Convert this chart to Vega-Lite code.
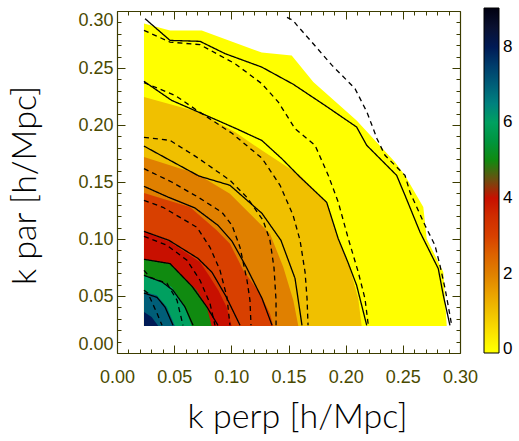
{
  "$schema": "https://vega.github.io/schema/vega-lite/v6.json",
  "width": 343,
  "height": 342,
  "autosize": "none",
  "padding": {"left": 117, "top": 11, "right": 59, "bottom": 88},
  "background": "white",
  "config": {"view": {"stroke": null}},
  "datasets": {
    "fills": [
      {"level":0,"kperp":0.0236,"kpar":0.289},{"level":0,"kperp":0.0464,"kpar":0.283},{"level":0,"kperp":0.0741,"kpar":0.283},{"level":0,"kperp":0.1266,"kpar":0.2635},{"level":0,"kperp":0.1528,"kpar":0.261},{"level":0,"kperp":0.1717,"kpar":0.2377},{"level":0,"kperp":0.2096,"kpar":0.204},{"level":0,"kperp":0.2431,"kpar":0.1675},{"level":0,"kperp":0.2519,"kpar":0.1558},{"level":0,"kperp":0.2679,"kpar":0.128},{"level":0,"kperp":0.2709,"kpar":0.1003},{"level":0,"kperp":0.2854,"kpar":0.071},{"level":0,"kperp":0.2869,"kpar":0.048},{"level":0,"kperp":0.2884,"kpar":0.0237},
      {"level":1,"kperp":0.0236,"kpar":0.2245},{"level":1,"kperp":0.0711,"kpar":0.2114},{"level":1,"kperp":0.1032,"kpar":0.1938},{"level":1,"kperp":0.1266,"kpar":0.1778},{"level":1,"kperp":0.16,"kpar":0.156},{"level":1,"kperp":0.1834,"kpar":0.1324},{"level":1,"kperp":0.1935,"kpar":0.1003},{"level":1,"kperp":0.2038,"kpar":0.074},{"level":1,"kperp":0.211,"kpar":0.0477},{"level":1,"kperp":0.214,"kpar":0.0237},
      {"level":2,"kperp":0.0236,"kpar":0.1719},{"level":2,"kperp":0.0697,"kpar":0.1573},{"level":2,"kperp":0.0988,"kpar":0.1398},{"level":2,"kperp":0.1163,"kpar":0.1222},{"level":2,"kperp":0.1338,"kpar":0.1047},{"level":2,"kperp":0.1454,"kpar":0.0754},{"level":2,"kperp":0.1542,"kpar":0.0462},{"level":2,"kperp":0.1586,"kpar":0.0237},
      {"level":3,"kperp":0.0236,"kpar":0.1403},{"level":3,"kperp":0.0638,"kpar":0.128},{"level":3,"kperp":0.0872,"kpar":0.1076},{"level":3,"kperp":0.0988,"kpar":0.0959},{"level":3,"kperp":0.1105,"kpar":0.0725},{"level":3,"kperp":0.1251,"kpar":0.0521},{"level":3,"kperp":0.1338,"kpar":0.0346},{"level":3,"kperp":0.1367,"kpar":0.0237},
      {"level":4,"kperp":0.0236,"kpar":0.1067},{"level":4,"kperp":0.0464,"kpar":0.0974},{"level":4,"kperp":0.0726,"kpar":0.0798},{"level":4,"kperp":0.0813,"kpar":0.0667},{"level":4,"kperp":0.0886,"kpar":0.055},{"level":4,"kperp":0.0959,"kpar":0.0403},{"level":4,"kperp":0.1003,"kpar":0.0237},
      {"level":5,"kperp":0.0236,"kpar":0.0822},{"level":5,"kperp":0.0464,"kpar":0.0784},{"level":5,"kperp":0.058,"kpar":0.0667},{"level":5,"kperp":0.0697,"kpar":0.055},{"level":5,"kperp":0.0785,"kpar":0.0403},{"level":5,"kperp":0.0828,"kpar":0.0237},
      {"level":6,"kperp":0.0236,"kpar":0.0681},{"level":6,"kperp":0.0376,"kpar":0.0638},{"level":6,"kperp":0.0478,"kpar":0.0579},{"level":6,"kperp":0.058,"kpar":0.0433},{"level":6,"kperp":0.0653,"kpar":0.0237},
      {"level":7,"kperp":0.0236,"kpar":0.0535},{"level":7,"kperp":0.0347,"kpar":0.0506},{"level":7,"kperp":0.0435,"kpar":0.0403},{"level":7,"kperp":0.0507,"kpar":0.0237},
      {"level":8,"kperp":0.0236,"kpar":0.036},{"level":8,"kperp":0.0303,"kpar":0.0316},{"level":8,"kperp":0.0361,"kpar":0.0237}
    ],
    "lines": [
      {"line":"S1","series":"P1","i":0,"kperp":0.0245,"kpar":0.2933},{"line":"S1","series":"P1","i":1,"kperp":0.0464,"kpar":0.2742},{"line":"S1","series":"P1","i":2,"kperp":0.0726,"kpar":0.2734},{"line":"S1","series":"P1","i":3,"kperp":0.0945,"kpar":0.2626},{"line":"S1","series":"P1","i":4,"kperp":0.1266,"kpar":0.2508},{"line":"S1","series":"P1","i":5,"kperp":0.1542,"kpar":0.2357},{"line":"S1","series":"P1","i":6,"kperp":0.1819,"kpar":0.2172},{"line":"S1","series":"P1","i":7,"kperp":0.2096,"kpar":0.1982},{"line":"S1","series":"P1","i":8,"kperp":0.2184,"kpar":0.1822},{"line":"S1","series":"P1","i":9,"kperp":0.2446,"kpar":0.1558},{"line":"S1","series":"P1","i":10,"kperp":0.2519,"kpar":0.1383},{"line":"S1","series":"P1","i":11,"kperp":0.265,"kpar":0.1061},{"line":"S1","series":"P1","i":12,"kperp":0.281,"kpar":0.074},{"line":"S1","series":"P1","i":13,"kperp":0.2854,"kpar":0.0506},{"line":"S1","series":"P1","i":14,"kperp":0.2912,"kpar":0.0243},
      {"line":"S2","series":"P1","i":0,"kperp":0.0236,"kpar":0.2383},{"line":"S2","series":"P1","i":1,"kperp":0.0478,"kpar":0.2216},{"line":"S2","series":"P1","i":2,"kperp":0.0711,"kpar":0.2114},{"line":"S2","series":"P1","i":3,"kperp":0.1032,"kpar":0.1973},{"line":"S2","series":"P1","i":4,"kperp":0.1266,"kpar":0.1865},{"line":"S2","series":"P1","i":5,"kperp":0.1441,"kpar":0.1705},{"line":"S2","series":"P1","i":6,"kperp":0.16,"kpar":0.1544},{"line":"S2","series":"P1","i":7,"kperp":0.1834,"kpar":0.1322},{"line":"S2","series":"P1","i":8,"kperp":0.1935,"kpar":0.1003},{"line":"S2","series":"P1","i":9,"kperp":0.202,"kpar":0.0795},{"line":"S2","series":"P1","i":10,"kperp":0.2096,"kpar":0.0594},{"line":"S2","series":"P1","i":11,"kperp":0.2184,"kpar":0.0243},
      {"line":"S3","series":"P1","i":0,"kperp":0.0236,"kpar":0.1815},{"line":"S3","series":"P1","i":1,"kperp":0.0464,"kpar":0.169},{"line":"S3","series":"P1","i":2,"kperp":0.0717,"kpar":0.1552},{"line":"S3","series":"P1","i":3,"kperp":0.0988,"kpar":0.1471},{"line":"S3","series":"P1","i":4,"kperp":0.1268,"kpar":0.1225},{"line":"S3","series":"P1","i":5,"kperp":0.1434,"kpar":0.0988},{"line":"S3","series":"P1","i":6,"kperp":0.1557,"kpar":0.0655},{"line":"S3","series":"P1","i":7,"kperp":0.1618,"kpar":0.0243},
      {"line":"S4","series":"P1","i":0,"kperp":0.0236,"kpar":0.1462},{"line":"S4","series":"P1","i":1,"kperp":0.0446,"kpar":0.1368},{"line":"S4","series":"P1","i":2,"kperp":0.0682,"kpar":0.1272},{"line":"S4","series":"P1","i":3,"kperp":0.0883,"kpar":0.112},{"line":"S4","series":"P1","i":4,"kperp":0.1006,"kpar":0.098},{"line":"S4","series":"P1","i":5,"kperp":0.1128,"kpar":0.076},{"line":"S4","series":"P1","i":6,"kperp":0.1268,"kpar":0.048},{"line":"S4","series":"P1","i":7,"kperp":0.1356,"kpar":0.0243},
      {"line":"S5","series":"P1","i":0,"kperp":0.0236,"kpar":0.1067},{"line":"S5","series":"P1","i":1,"kperp":0.0455,"kpar":0.0988},{"line":"S5","series":"P1","i":2,"kperp":0.0708,"kpar":0.083},{"line":"S5","series":"P1","i":3,"kperp":0.0831,"kpar":0.0708},{"line":"S5","series":"P1","i":4,"kperp":0.0953,"kpar":0.0497},{"line":"S5","series":"P1","i":5,"kperp":0.1076,"kpar":0.0243},
      {"line":"S6","series":"P1","i":0,"kperp":0.0236,"kpar":0.0822},{"line":"S6","series":"P1","i":1,"kperp":0.0464,"kpar":0.0784},{"line":"S6","series":"P1","i":2,"kperp":0.0656,"kpar":0.0585},{"line":"S6","series":"P1","i":3,"kperp":0.0787,"kpar":0.0403},{"line":"S6","series":"P1","i":4,"kperp":0.0883,"kpar":0.0243},
      {"line":"S7","series":"P1","i":0,"kperp":0.0236,"kpar":0.0681},{"line":"S7","series":"P1","i":1,"kperp":0.0394,"kpar":0.0623},{"line":"S7","series":"P1","i":2,"kperp":0.049,"kpar":0.055},{"line":"S7","series":"P1","i":3,"kperp":0.0595,"kpar":0.0403},{"line":"S7","series":"P1","i":4,"kperp":0.0665,"kpar":0.0243},
      {"line":"S8","series":"P1","i":0,"kperp":0.0236,"kpar":0.0526},{"line":"S8","series":"P1","i":1,"kperp":0.035,"kpar":0.0488},{"line":"S8","series":"P1","i":2,"kperp":0.042,"kpar":0.0403},{"line":"S8","series":"P1","i":3,"kperp":0.049,"kpar":0.0243},
      {"line":"D1","series":"P2","i":0,"kperp":0.1487,"kpar":0.2944},{"line":"D1","series":"P2","i":1,"kperp":0.154,"kpar":0.2918},{"line":"D1","series":"P2","i":2,"kperp":0.1575,"kpar":0.2874},{"line":"D1","series":"P2","i":3,"kperp":0.1706,"kpar":0.2725},{"line":"D1","series":"P2","i":4,"kperp":0.1881,"kpar":0.2523},{"line":"D1","series":"P2","i":5,"kperp":0.2082,"kpar":0.2319},{"line":"D1","series":"P2","i":6,"kperp":0.2187,"kpar":0.2111},{"line":"D1","series":"P2","i":7,"kperp":0.2274,"kpar":0.188},{"line":"D1","series":"P2","i":8,"kperp":0.2344,"kpar":0.1734},{"line":"D1","series":"P2","i":9,"kperp":0.2519,"kpar":0.1558},{"line":"D1","series":"P2","i":10,"kperp":0.2563,"kpar":0.1409},{"line":"D1","series":"P2","i":11,"kperp":0.2694,"kpar":0.112},{"line":"D1","series":"P2","i":12,"kperp":0.2781,"kpar":0.0945},{"line":"D1","series":"P2","i":13,"kperp":0.2825,"kpar":0.0769},{"line":"D1","series":"P2","i":14,"kperp":0.2869,"kpar":0.0567},{"line":"D1","series":"P2","i":15,"kperp":0.2912,"kpar":0.0331},{"line":"D1","series":"P2","i":16,"kperp":0.2927,"kpar":0.0243},
      {"line":"D2","series":"P2","i":0,"kperp":0.0236,"kpar":0.283},{"line":"D2","series":"P2","i":1,"kperp":0.0464,"kpar":0.2727},{"line":"D2","series":"P2","i":2,"kperp":0.0726,"kpar":0.2705},{"line":"D2","series":"P2","i":3,"kperp":0.1032,"kpar":0.2538},{"line":"D2","series":"P2","i":4,"kperp":0.1266,"kpar":0.2363},{"line":"D2","series":"P2","i":5,"kperp":0.1411,"kpar":0.2201},{"line":"D2","series":"P2","i":6,"kperp":0.1557,"kpar":0.1968},{"line":"D2","series":"P2","i":7,"kperp":0.1732,"kpar":0.1822},{"line":"D2","series":"P2","i":8,"kperp":0.1848,"kpar":0.1558},{"line":"D2","series":"P2","i":9,"kperp":0.1935,"kpar":0.1324},{"line":"D2","series":"P2","i":10,"kperp":0.2023,"kpar":0.1003},{"line":"D2","series":"P2","i":11,"kperp":0.211,"kpar":0.071},{"line":"D2","series":"P2","i":12,"kperp":0.2169,"kpar":0.0477},{"line":"D2","series":"P2","i":13,"kperp":0.2198,"kpar":0.0243},
      {"line":"D3","series":"P2","i":0,"kperp":0.0236,"kpar":0.2372},{"line":"D3","series":"P2","i":1,"kperp":0.0507,"kpar":0.226},{"line":"D3","series":"P2","i":2,"kperp":0.0726,"kpar":0.2111},{"line":"D3","series":"P2","i":3,"kperp":0.1006,"kpar":0.1927},{"line":"D3","series":"P2","i":4,"kperp":0.1268,"kpar":0.1708},{"line":"D3","series":"P2","i":5,"kperp":0.1426,"kpar":0.1471},{"line":"D3","series":"P2","i":6,"kperp":0.154,"kpar":0.1208},{"line":"D3","series":"P2","i":7,"kperp":0.1601,"kpar":0.0988},{"line":"D3","series":"P2","i":8,"kperp":0.1645,"kpar":0.0708},{"line":"D3","series":"P2","i":9,"kperp":0.1662,"kpar":0.048},{"line":"D3","series":"P2","i":10,"kperp":0.1671,"kpar":0.0243},
      {"line":"D4","series":"P2","i":0,"kperp":0.0236,"kpar":0.1892},{"line":"D4","series":"P2","i":1,"kperp":0.0464,"kpar":0.1865},{"line":"D4","series":"P2","i":2,"kperp":0.07,"kpar":0.1716},{"line":"D4","series":"P2","i":3,"kperp":0.0988,"kpar":0.1515},{"line":"D4","series":"P2","i":4,"kperp":0.1137,"kpar":0.1365},{"line":"D4","series":"P2","i":5,"kperp":0.1277,"kpar":0.1164},{"line":"D4","series":"P2","i":6,"kperp":0.1338,"kpar":0.0988},{"line":"D4","series":"P2","i":7,"kperp":0.1373,"kpar":0.0751},{"line":"D4","series":"P2","i":8,"kperp":0.1391,"kpar":0.0462},{"line":"D4","series":"P2","i":9,"kperp":0.1391,"kpar":0.0243},
      {"line":"D5","series":"P2","i":0,"kperp":0.0236,"kpar":0.1617},{"line":"D5","series":"P2","i":1,"kperp":0.0478,"kpar":0.15},{"line":"D5","series":"P2","i":2,"kperp":0.0708,"kpar":0.1368},{"line":"D5","series":"P2","i":3,"kperp":0.0918,"kpar":0.1234},{"line":"D5","series":"P2","i":4,"kperp":0.1006,"kpar":0.112},{"line":"D5","series":"P2","i":5,"kperp":0.1076,"kpar":0.0927},{"line":"D5","series":"P2","i":6,"kperp":0.1137,"kpar":0.0638},{"line":"D5","series":"P2","i":7,"kperp":0.1163,"kpar":0.0462},{"line":"D5","series":"P2","i":8,"kperp":0.1172,"kpar":0.0243},
      {"line":"D6","series":"P2","i":0,"kperp":0.0236,"kpar":0.1339},{"line":"D6","series":"P2","i":1,"kperp":0.0402,"kpar":0.1278},{"line":"D6","series":"P2","i":2,"kperp":0.07,"kpar":0.1102},{"line":"D6","series":"P2","i":3,"kperp":0.0813,"kpar":0.0927},{"line":"D6","series":"P2","i":4,"kperp":0.0901,"kpar":0.0725},{"line":"D6","series":"P2","i":5,"kperp":0.0962,"kpar":0.0489},{"line":"D6","series":"P2","i":6,"kperp":0.0988,"kpar":0.0243},
      {"line":"D7","series":"P2","i":0,"kperp":0.0236,"kpar":0.1023},{"line":"D7","series":"P2","i":1,"kperp":0.0437,"kpar":0.0945},{"line":"D7","series":"P2","i":2,"kperp":0.0612,"kpar":0.0813},{"line":"D7","series":"P2","i":3,"kperp":0.0726,"kpar":0.0638},{"line":"D7","series":"P2","i":4,"kperp":0.0813,"kpar":0.0436},{"line":"D7","series":"P2","i":5,"kperp":0.0857,"kpar":0.0243},
      {"line":"D8","series":"P2","i":0,"kperp":0.0236,"kpar":0.0725},{"line":"D8","series":"P2","i":1,"kperp":0.0289,"kpar":0.0664},{"line":"D8","series":"P2","i":2,"kperp":0.0437,"kpar":0.0611},{"line":"D8","series":"P2","i":3,"kperp":0.0525,"kpar":0.0462},{"line":"D8","series":"P2","i":4,"kperp":0.0577,"kpar":0.0243},
      {"line":"D9","series":"P2","i":0,"kperp":0.0236,"kpar":0.055},{"line":"D9","series":"P2","i":1,"kperp":0.0271,"kpar":0.0524},{"line":"D9","series":"P2","i":2,"kperp":0.035,"kpar":0.0348},{"line":"D9","series":"P2","i":3,"kperp":0.0394,"kpar":0.0243}
    ]
  },
  "layer": [
    {
      "data": {"name": "fills"},
      "mark": {"type": "area", "opacity": 1, "interpolate": "linear"},
      "encoding": {
        "x": {
          "field": "kperp", "type": "quantitative",
          "scale": {"domain": [0, 0.3], "nice": false, "zero": false},
          "axis": {
            "orient": "bottom",
            "values": [0,0.01,0.02,0.03,0.04,0.05,0.06,0.07,0.08,0.09,0.1,0.11,0.12,0.13,0.14,0.15,0.16,0.17,0.18,0.19,0.2,0.21,0.22,0.23,0.24,0.25,0.26,0.27,0.28,0.29,0.3],
            "labelExpr": "abs(datum.value*20 - round(datum.value*20)) < 1e-6 ? format(datum.value, '.2f') : ''",
            "tickSize": {"condition": {"test": "abs(datum.value*20 - round(datum.value*20)) < 1e-6", "value": -8}, "value": -4},
            "tickColor": "#3c3c00", "domainColor": "#3c3c00", "labelColor": "#4a4a00",
            "tickWidth": 1, "domainWidth": 1.2,
            "labelFont": "Liberation Sans", "labelFontSize": 18, "labelPadding": 23, "labelDx": -6,
            "labelFlush": false, "labelOverlap": false, "labelBound": false,
            "grid": false,
            "title": "k perp [h/Mpc]", "titleFont": "Lato", "titleFontWeight": 300, "titleFontSize": 34, "titleColor": "black",
            "titleX": 180, "titleY": 74, "titleBaseline": "alphabetic", "titleAlign": "center", "titleAnchor": null
          }
        },
        "y": {
          "field": "kpar", "type": "quantitative", "stack": null,
          "scale": {"domain": [0, 0.3], "nice": false, "zero": false},
          "axis": {
            "orient": "left",
            "values": [0,0.01,0.02,0.03,0.04,0.05,0.06,0.07,0.08,0.09,0.1,0.11,0.12,0.13,0.14,0.15,0.16,0.17,0.18,0.19,0.2,0.21,0.22,0.23,0.24,0.25,0.26,0.27,0.28,0.29,0.3],
            "labelExpr": "abs(datum.value*20 - round(datum.value*20)) < 1e-6 ? format(datum.value, '.2f') : ''",
            "tickSize": {"condition": {"test": "abs(datum.value*20 - round(datum.value*20)) < 1e-6", "value": -8}, "value": -4},
            "tickColor": "#3c3c00", "domainColor": "#3c3c00", "labelColor": "#4a4a00",
            "tickWidth": 1, "domainWidth": 1.2,
            "labelFont": "Liberation Sans", "labelFontSize": 18, "labelPadding": 12,
            "labelFlush": true, "labelOverlap": false, "labelBound": false,
            "grid": false,
            "title": "k par [h/Mpc]", "titleFont": "Lato", "titleFontWeight": 300, "titleFontSize": 34, "titleColor": "black",
            "titleX": -92, "titleY": 174, "titleAngle": -90, "titleBaseline": "middle", "titleAlign": "center", "titleAnchor": null
          }
        },
        "y2": {"datum": 0.0237},
        "color": {
          "field": "level", "type": "quantitative",
          "scale": {
            "domain": [-0.1, 0, 1, 2, 3, 4, 4.5, 5, 6, 7, 8, 9.03],
            "range": ["#ffff00", "#ffff00", "#f0c000", "#e08000", "#d84000", "#c81000", "#6a5010", "#108a10", "#00a060", "#005e78", "#001a55", "#000010"]
          },
          "legend": {
            "orient": "none", "legendX": 367, "legendY": -3, "direction": "vertical",
            "gradientLength": 345, "gradientThickness": 15, "title": null,
            "values": [0, 2, 4, 6, 8], "labelFont": "Liberation Sans", "labelFontSize": 17, "labelColor": "black",
            "labelOffset": 4, "labelOverlap": false, "labelBaseline": "middle",
            "gradientStrokeColor": "black", "gradientStrokeWidth": 1
          }
        },
        "detail": {"field": "level", "type": "nominal"}
      }
    },
    {
      "data": {"name": "lines"},
      "mark": {"type": "line", "color": "black", "strokeWidth": 1.3, "interpolate": "linear"},
      "encoding": {
        "x": {
          "field": "kperp", "type": "quantitative",
          "scale": {"domain": [0, 0.3], "nice": false, "zero": false},
          "axis": {
            "orient": "top",
            "values": [0,0.01,0.02,0.03,0.04,0.05,0.06,0.07,0.08,0.09,0.1,0.11,0.12,0.13,0.14,0.15,0.16,0.17,0.18,0.19,0.2,0.21,0.22,0.23,0.24,0.25,0.26,0.27,0.28,0.29,0.3],
            "labels": false,
            "tickSize": {"condition": {"test": "abs(datum.value*20 - round(datum.value*20)) < 1e-6", "value": -8}, "value": -4},
            "tickColor": "#3c3c00", "domainColor": "#3c3c00", "tickWidth": 1, "domainWidth": 1.2,
            "grid": false, "title": null
          }
        },
        "y": {
          "field": "kpar", "type": "quantitative",
          "scale": {"domain": [0, 0.3], "nice": false, "zero": false},
          "axis": {
            "orient": "right",
            "values": [0,0.01,0.02,0.03,0.04,0.05,0.06,0.07,0.08,0.09,0.1,0.11,0.12,0.13,0.14,0.15,0.16,0.17,0.18,0.19,0.2,0.21,0.22,0.23,0.24,0.25,0.26,0.27,0.28,0.29,0.3],
            "labels": false,
            "tickSize": {"condition": {"test": "abs(datum.value*20 - round(datum.value*20)) < 1e-6", "value": -8}, "value": -4},
            "tickColor": "#3c3c00", "domainColor": "#3c3c00", "tickWidth": 1, "domainWidth": 1.2,
            "grid": false, "title": null
          }
        },
        "detail": {"field": "line", "type": "nominal"},
        "order": {"field": "i", "type": "quantitative"},
        "strokeDash": {
          "field": "series", "type": "nominal",
          "scale": {"domain": ["P1", "P2"], "range": [[1, 0], [5, 4]]},
          "legend": null
        }
      }
    }
  ],
  "resolve": {"axis": {"x": "independent", "y": "independent"}}
}
